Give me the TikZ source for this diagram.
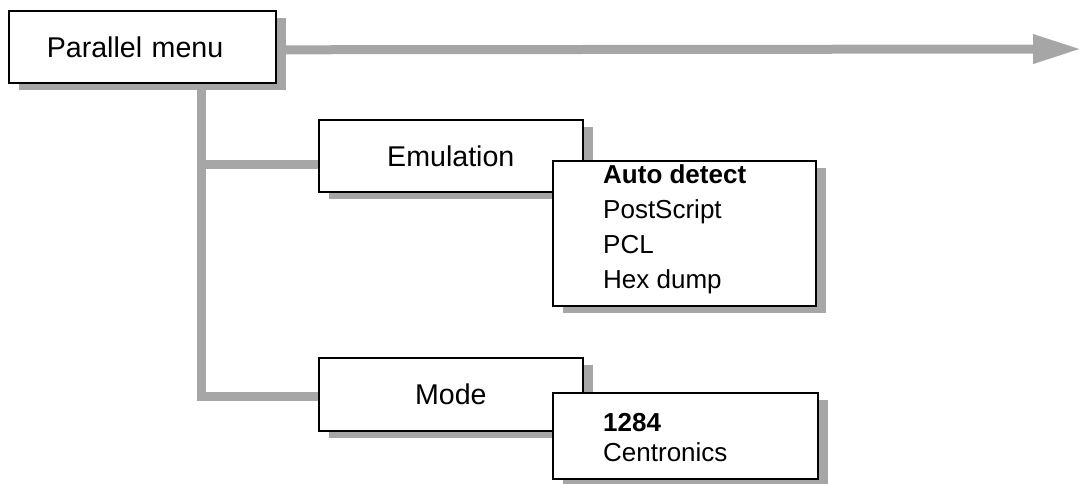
\documentclass[tikz,border=0pt]{standalone}
\usepackage{fontspec}
\setmainfont{Liberation Sans}
\usetikzlibrary{shadows,arrows.meta,calc,backgrounds}
\definecolor{railgray}{HTML}{A6A6A6}
\tikzset{
  menubox/.style={rectangle, draw=black, line width=1.6pt, fill=white, inner sep=0pt,
    anchor=north west,
    drop shadow={shadow xshift=10pt, shadow yshift=-7pt, fill=railgray, opacity=1},
    font=\fontsize{28.6}{34}\selectfont},
  opttext/.style={anchor=base west, inner sep=0pt, font=\fontsize{26}{30}\selectfont},
  railline/.style={draw=railgray, line width=9pt},
}
\begin{document}
\begin{tikzpicture}[x=1pt,y=-1pt]
\useasboundingbox (0,0) rectangle (1079,483);

% menu boxes
\node[menubox, minimum width=267pt, minimum height=72pt, text width=191pt,
      inner xsep=38pt, align=left] (par) at (8,10) {Parallel menu};
\node[menubox, minimum width=264pt, minimum height=72pt] (emu) at (318,119) {Emulation};
\node[menubox, minimum width=263pt, minimum height=145pt] (emuopts) at (552,160) {};
\node[menubox, minimum width=264pt, minimum height=73pt] (mode) at (318,357) {Mode};
\node[menubox, minimum width=265pt, minimum height=86pt] (modeopts) at (552,392) {};

% option lists
\node[opttext] (autodetect) at (603,183) {\bfseries Auto detect};
\node[opttext] (postscript) at (603,218) {PostScript};
\node[opttext] (pcl) at (603,253) {PCL};
\node[opttext] (hexdump) at (603,288) {Hex dump};
\node[opttext] (m1284) at (603,431) {\bfseries 1284};
\node[opttext] (centronics) at (603,461) {Centronics};

% rails behind the boxes
\coordinate (trunk) at (201,0);
\coordinate (arrowtip) at (1079,49);
\coordinate (emuin) at ($(emu.west)+(0,9)$);
\coordinate (modein) at ($(mode.west)+(0,2.5)$);
\begin{pgfonlayer}{background}
  \draw[railline, -{Triangle[length=46pt,width=30pt,line width=0.1pt]}]
    ($(par.east)+(0,3)$) -- (arrowtip);
  \draw[railline] (trunk |- par.south) -- (trunk |- modein) -- (modein);
  \draw[railline] (trunk |- emuin) -- (emuin);
\end{pgfonlayer}
\end{tikzpicture}
\end{document}
